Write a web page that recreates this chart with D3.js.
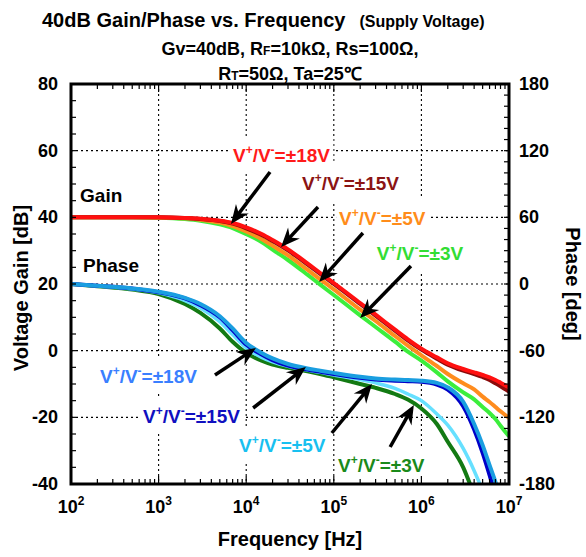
<!DOCTYPE html>
<html>
<head>
<meta charset="utf-8">
<script src="https://d3js.org/d3.v7.min.js"></script>
<style>
  body { margin: 0; background: #fff; }
  text { font-family: "Liberation Sans", Arial, sans-serif; }
  .grid line { stroke: #000; stroke-width: 1.1; stroke-dasharray: 2,3; }
  .tick-label { font-size: 18px; font-weight: bold; fill: #000; }
  .note { font-size: 19px; font-weight: bold; }
  .head { font-weight: bold; fill: #000; }
</style>
</head>
<body>
<div id="chart"></div>
<script>
// frequency points (Hz) shared by every curve
var freqs = [1e2, 2e2, 5e2, 1e3, 2e3, 3e3, 5e3, 7e3, 1e4, 1.5e4, 2e4, 3e4, 5e4, 7e4,
             1e5, 2e5, 3e5, 5e5, 7e5, 1e6, 1.5e6, 2e6, 3e6, 4e6, 5e6, 6e6, 7e6, 8e6, 1e7];

// voltage gain [dB]
var gain18 = [40, 40, 40, 40, 39.8, 39.6, 39.0, 38.3, 37.0, 35.0, 33.2, 30.4, 26.2, 23.3,
              20.3, 14.3, 10.8, 6.3, 3.4, 0.6, -2.0, -3.8, -5.5, -6.5, -7.3, -8.0, -8.8, -9.6, -11.0];
var gain15 = [40, 40, 40, 40, 39.8, 39.5, 38.9, 38.1, 36.7, 34.7, 32.9, 30.1, 25.9, 23.0,
              20.0, 14.0, 10.5, 6.0, 3.1, 0.3, -2.4, -4.2, -6.0, -7.0, -7.9, -8.8, -9.8, -10.7, -12.3];
var gain5  = [40, 40, 40, 39.9, 39.7, 39.3, 38.4, 37.4, 35.8, 33.5, 31.5, 28.6, 24.3, 21.4,
              18.4, 12.3, 8.9, 4.4, 1.5, -1.4, -4.6, -7.0, -9.8, -11.6, -13.8, -15.4, -16.9, -18.2, -20.2];
var gain3  = [40, 40, 40, 39.9, 39.5, 39.0, 37.9, 36.8, 35.0, 32.6, 30.3, 27.2, 22.8, 19.8,
              16.7, 10.6, 7.1, 2.7, -0.3, -3.0, -6.5, -9.2, -12.5, -14.6, -16.9, -18.7, -20.5, -22.5, -25.7];

// phase [deg]
var phase18 = [0, -1.5, -4, -7, -12.5, -18, -29, -40, -53, -62, -67, -72, -76, -78,
               -80, -83.5, -85, -86, -86.5, -87, -89, -93, -106, -126, -145, -163, -178, -192, null];
var phase15 = [0, -1.5, -4, -7.5, -13, -19, -30, -41.5, -54.5, -63.5, -68.5, -73.5, -77, -79,
               -81, -84.5, -86, -87, -87.5, -88, -90.5, -95, -110, -131, -152, -172, -190, null, null];
var phase5  = [0, -1.8, -4.5, -8, -15, -21.5, -34, -45.5, -57.5, -66, -70, -74, -77.5, -79.5,
               -82, -86, -89, -94, -99, -105, -117, -127, -148, -168, -186, null, null, null, null];
var phase3  = [0, -2, -5, -9, -18, -26, -40, -52, -62, -69, -72.5, -75.5, -78.5, -81,
               -84, -90, -93.5, -99, -104, -112, -126, -142, -165, -190, null, null, null, null, null];

var supplies = ["\u00b118V", "\u00b115V", "\u00b15V", "\u00b13V"];
var gainTicks = [-40, -20, 0, 20, 40, 60, 80];
var phaseTicks = [-180, -120, -60, 0, 60, 120, 180];
var decades = [2, 3, 4, 5, 6, 7];

// annotation anchors in data units: label start/baseline, arrow tail -> tip
var gainNotes = [
  {lf: 7.06e3, lv: 56.6, tf: 1.87e4, tv: 53.6, hf: 6.7e3, hv: 38.0},
  {lf: 4.34e4, lv: 48.2, tf: 6.6e4, tv: 43.1, hf: 2.5e4, hv: 31.1},
  {lf: 1.15e5, lv: 37.7, tf: 2.15e5, tv: 35.3, hf: 6.8e4, hv: 20.6},
  {lf: 3.1e5, lv: 27.2, tf: 7.6e5, tv: 25.4, hf: 2.0e5, hv: 9.8}
];
var phaseNotes = [
  {lf: 214, lv: -89.1, tf: 4.4e3, tv: -81.9, hf: 1.29e4, hv: -57.6},
  {lf: 664, lv: -125.1, tf: 1.2e4, tv: -111.6, hf: 4.8e4, hv: -74.7},
  {lf: 8.3e3, lv: -151.2, tf: 9.5e4, tv: -134.1, hf: 2.73e5, hv: -90},
  {lf: 1.12e5, lv: -169.2, tf: 4.4e5, tv: -146.7, hf: 8.2e5, hv: -108.9}
];

var gainColors = ["#ff1010", "#8b0a0a", "#ff8c1e", "#3cee3c"];
var gainTextColors = ["#ff1a1a", "#8b1414", "#ff8c1a", "#33dd33"];
var phaseColors = ["#1a9ee0", "#0000c8", "#66e0ff", "#137a13"];
var phaseTextColors = ["#3a7fff", "#1010c0", "#18c0f0", "#1a8a1a"];

var width = 586, height = 557;
var plotL = 71, plotR = 509, plotT = 84, plotB = 484;

var svg = d3.select("#chart").append("svg")
    .attr("width", width)
    .attr("height", height);

var x = d3.scaleLog().domain([1e2, 1e7]).range([plotL, plotR]);
var y = d3.scaleLinear().domain([-40, 80]).range([plotB, plotT]);
var yP = d3.scaleLinear().domain([-180, 180]).range([plotB, plotT]);

// titles
var title = svg.append("text").attr("class", "head").attr("x", 42).attr("y", 27).style("font-size", "20px");
title.append("tspan").text("40dB Gain/Phase vs. Frequency");
title.append("tspan").attr("dx", 14).style("font-size", "16px").text("(Supply Voltage)");

var t2 = svg.append("text").attr("class", "head").attr("x", 290).attr("y", 55)
    .attr("text-anchor", "middle").style("font-size", "18px");
t2.append("tspan").text("Gv=40dB, R");
t2.append("tspan").style("font-size", "12px").text("F");
t2.append("tspan").text("=10k\u03a9, Rs=100\u03a9,");

var t3 = svg.append("text").attr("class", "head").attr("x", 290).attr("y", 80)
    .attr("text-anchor", "middle").style("font-size", "18px");
t3.append("tspan").text("R");
t3.append("tspan").style("font-size", "12px").text("T");
t3.append("tspan").text("=50\u03a9, Ta=25\u2103");

// grid
var grid = svg.append("g").attr("class", "grid");
grid.selectAll(".h").data([60, 40, 20, 0, -20]).enter().append("line")
    .attr("x1", plotL).attr("x2", plotR)
    .attr("y1", function(d) { return y(d); }).attr("y2", function(d) { return y(d); });
grid.selectAll(".v").data([1e3, 1e4, 1e5, 1e6]).enter().append("line")
    .attr("y1", plotT).attr("y2", plotB)
    .attr("x1", function(d) { return x(d); }).attr("x2", function(d) { return x(d); });

// label texts (white boxes hide the grid behind them)
var boxLayer = svg.append("g");
var curveLayer = svg.append("g");
var arrowLayer = svg.append("g");
var textLayer = svg.append("g");

function supplyLabel(px, py, s, color) {
  var t = textLayer.append("text").attr("class", "note")
      .attr("x", px).attr("y", py).attr("fill", color);
  t.append("tspan").text("V");
  t.append("tspan").attr("dy", -8).style("font-size", "12px").text("+");
  t.append("tspan").attr("dy", 8).text("/V");
  t.append("tspan").attr("dy", -8).style("font-size", "12px").text("-");
  t.append("tspan").attr("dy", 8).text("=" + s);
  var b = t.node().getBBox();
  boxLayer.append("rect")
      .attr("x", b.x - 3).attr("y", b.y - 7)
      .attr("width", b.width + 6).attr("height", b.height + 14)
      .attr("fill", "#fff");
}

gainNotes.forEach(function(n, i) {
  supplyLabel(x(n.lf), y(n.lv), supplies[i], gainTextColors[i]);
});
phaseNotes.forEach(function(n, i) {
  supplyLabel(x(n.lf), yP(n.lv), supplies[i], phaseTextColors[i]);
});

textLayer.append("text").attr("class", "note").attr("x", x(127)).attr("y", y(44.6)).text("Gain");
textLayer.append("text").attr("class", "note").attr("x", x(137)).attr("y", y(23.6)).text("Phase");

// curves
svg.append("clipPath").attr("id", "plot").append("rect")
    .attr("x", plotL).attr("y", plotT).attr("width", plotR - plotL).attr("height", plotB - plotT);
curveLayer.attr("clip-path", "url(#plot)");

function drawCurve(vals, scale, color, w) {
  var line = d3.line()
      .defined(function(d) { return d[1] !== null; })
      .x(function(d) { return x(d[0]); })
      .y(function(d) { return scale(d[1]); })
      .curve(d3.curveMonotoneX);
  curveLayer.append("path")
      .datum(freqs.map(function(f, i) { return [f, vals[i]]; }))
      .attr("d", line)
      .attr("fill", "none")
      .attr("stroke", color)
      .attr("stroke-width", w)
      .attr("stroke-linejoin", "round");
}

drawCurve(phase3, yP, phaseColors[3], 4);
drawCurve(phase5, yP, phaseColors[2], 3.5);
drawCurve(phase15, yP, phaseColors[1], 4);
drawCurve(phase18, yP, phaseColors[0], 4);

drawCurve(gain3, y, gainColors[3], 4);
drawCurve(gain5, y, gainColors[2], 4);
drawCurve(gain15, y, gainColors[1], 4);
drawCurve(gain18, y, gainColors[0], 4);

// arrows
function arrow(x0, y0, x1, y1) {
  var ang = Math.atan2(y1 - y0, x1 - x0) * 180 / Math.PI;
  var len = Math.hypot(x1 - x0, y1 - y0);
  var g = arrowLayer.append("g")
      .attr("transform", "translate(" + x1 + "," + y1 + ") rotate(" + ang + ")");
  g.append("line").attr("x1", -len).attr("x2", -12).attr("y1", 0).attr("y2", 0)
      .attr("stroke", "#000").attr("stroke-width", 3.5);
  g.append("path").attr("d", "M0,0 L-19,-8 L-13,0 L-19,8 Z").attr("fill", "#000");
}
gainNotes.forEach(function(n) { arrow(x(n.tf), y(n.tv), x(n.hf), y(n.hv)); });
phaseNotes.forEach(function(n) { arrow(x(n.tf), yP(n.tv), x(n.hf), yP(n.hv)); });

// ticks (inward) and frame
var ticks = svg.append("g").attr("stroke", "#000").attr("stroke-width", 1.2);
d3.range(-40, 81, 5).forEach(function(v) {
  ticks.append("line").attr("x1", plotL).attr("x2", plotL + 5).attr("y1", y(v)).attr("y2", y(v));
});
d3.range(-180, 181, 10).forEach(function(v) {
  ticks.append("line").attr("x1", plotR).attr("x2", plotR - 5).attr("y1", yP(v)).attr("y2", yP(v));
});
decades.slice(0, 5).forEach(function(d) {
  d3.range(1, 10).forEach(function(m) {
    var f = m * Math.pow(10, d), len = m === 1 ? 8 : 5;
    ticks.append("line").attr("x1", x(f)).attr("x2", x(f)).attr("y1", plotB).attr("y2", plotB - len);
    ticks.append("line").attr("x1", x(f)).attr("x2", x(f)).attr("y1", plotT).attr("y2", plotT + len);
  });
});

svg.append("rect")
    .attr("x", plotL).attr("y", plotT).attr("width", plotR - plotL).attr("height", plotB - plotT)
    .attr("fill", "none").attr("stroke", "#000").attr("stroke-width", 3);

// tick labels
svg.selectAll(".gl").data(gainTicks).enter().append("text")
    .attr("class", "tick-label").attr("text-anchor", "end")
    .attr("x", plotL - 13).attr("y", function(d) { return y(d) + 6; })
    .text(function(d) { return d; });
svg.selectAll(".pl").data(phaseTicks).enter().append("text")
    .attr("class", "tick-label").attr("text-anchor", "start")
    .attr("x", plotR + 10).attr("y", function(d) { return yP(d) + 6; })
    .text(function(d) { return d; });
var fl = svg.selectAll(".fl").data(decades).enter().append("text")
    .attr("class", "tick-label").attr("text-anchor", "middle")
    .attr("x", function(d) { return x(Math.pow(10, d)); }).attr("y", 513);
fl.append("tspan").text("10");
fl.append("tspan").attr("dy", -8).style("font-size", "12px").text(function(d) { return d; });

// axis titles
svg.append("text").attr("transform", "translate(28," + ((plotT + plotB) / 2 + 4) + ") rotate(-90)")
    .attr("text-anchor", "middle").style("font-size", "20px").style("font-weight", "bold")
    .text("Voltage Gain [dB]");
svg.append("text").attr("transform", "translate(566," + ((plotT + plotB) / 2) + ") rotate(90)")
    .attr("text-anchor", "middle").style("font-size", "20px").style("font-weight", "bold")
    .text("Phase [deg]");
svg.append("text").attr("x", 290).attr("y", 546)
    .attr("text-anchor", "middle").style("font-size", "20px").style("font-weight", "bold")
    .text("Frequency [Hz]");
</script>
</body>
</html>
